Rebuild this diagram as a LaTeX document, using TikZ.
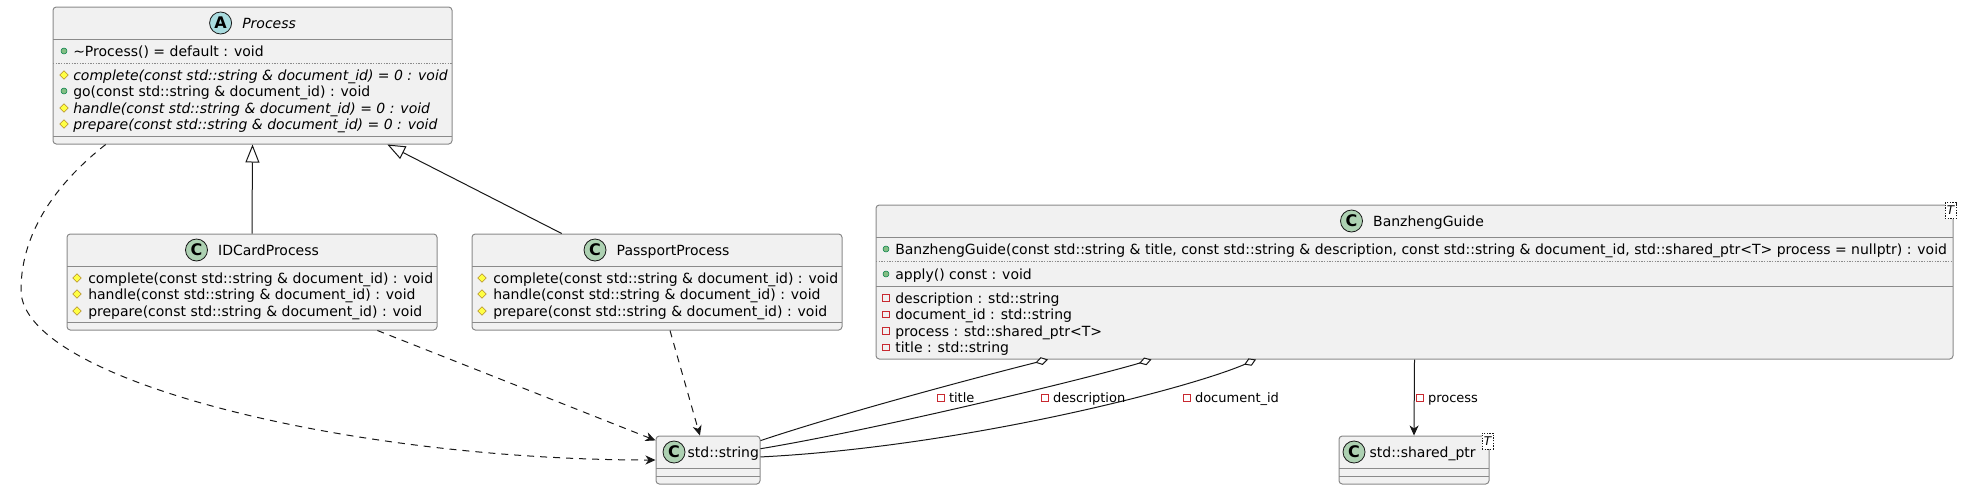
\documentclass[tikz,border=0pt]{standalone}
\usepackage{fontspec}
\setmainfont{DejaVu Sans}
\usetikzlibrary{arrows.meta,positioning,fit,calc,shapes.geometric}
\definecolor{boxfill}{HTML}{F1F1F1}
\definecolor{boxline}{HTML}{8A8A8A}
\definecolor{linkline}{HTML}{181818}
\definecolor{classgreen}{HTML}{ADD1B2}
\definecolor{abstractblue}{HTML}{A9DCDF}
\definecolor{pubfill}{HTML}{84BE84}
\definecolor{publine}{HTML}{038048}
\definecolor{protfill}{HTML}{FFFF44}
\definecolor{protline}{HTML}{B38D22}
\definecolor{privline}{HTML}{C82930}
\begin{document}
\begin{tikzpicture}[x=0.75pt,y=-0.75pt,
	classbox/.style = {draw=boxline, fill=boxfill, line width=0.75pt, rounded corners=2.5pt, inner sep=0pt},
	compline/.style = {draw=boxline, line width=0.75pt},
	dotline/.style = {draw=boxline, line width=0.5pt, dash pattern=on 1pt off 1pt},
	cicon/.style = {circle, draw=linkline, line width=0.6pt, fill=classgreen, minimum size=16.5pt, inner sep=0pt, font=\fontsize{12}{12}\selectfont\bfseries},
	aicon/.style = {cicon, fill=abstractblue},
	member/.style = {inner sep=0pt, anchor=west, font=\fontsize{10.5}{12}\selectfont, text height=9.6pt, text depth=2pt},
	pub/.style = {circle, draw=publine, fill=pubfill, line width=0.4pt, minimum size=4.5pt, inner sep=0pt},
	prot/.style = {diamond, draw=protline, fill=protfill, line width=0.4pt, minimum size=6.5pt, inner sep=0pt},
	priv/.style = {rectangle, draw=privline, line width=0.6pt, minimum size=5pt, inner sep=0pt},
	tparam/.style = {draw=linkline, dash pattern=on 1pt off 1pt, line width=0.4pt, fill=white, inner sep=0pt, minimum width=8.25pt, minimum height=12pt, font=\fontsize{9}{9}\selectfont\itshape},
	link/.style = {draw=linkline, line width=0.75pt},
	dep/.style = {link, dash pattern=on 5.25pt off 4.5pt, -{Stealth[length=7.5pt,width=6.75pt,inset=2.25pt]}},
	assoc/.style = {link, -{Stealth[length=7.5pt,width=6.75pt,inset=2.25pt]}},
	inherit/.style = {link, -{Triangle[length=13.5pt,width=10.5pt,fill=white]}},
	aggr/.style = {link, -{Diamond[length=9.75pt,width=6pt,fill=white]}},
	lbl/.style = {inner sep=0pt, anchor=west, font=\fontsize{9.75}{11}\selectfont, text height=9pt, text depth=2pt}]
	
	\useasboundingbox (0,0) rectangle (1962,490);
	
	% Process
	\node[classbox, fit={(53,7) (452,144)}] (proc) {};
	\draw[compline] (53,39) -- (452,39);
	\draw[dotline] (53,63) -- (452,63);
	\draw[compline] (53,136) -- (452,136);
	\node[aicon] (proca) at (220.6,23) {A};
	\node[member, right=7.5pt of proca] (procn) {\itshape Process};
	\node[pub] (pm1i) at (64,51) {};
	\node[member] (pm1) at (73,51) {\textasciitilde Process() = default : void};
	\node[prot] (pm2i) at (64,75) {};
	\node[member] (pm2) at (73,75) {\itshape complete(const std::string \& document\_id) = 0 : void};
	\node[pub] (pm3i) at (64,91) {};
	\node[member] (pm3) at (73,91) {go(const std::string \& document\_id) : void};
	\node[prot] (pm4i) at (64,108) {};
	\node[member] (pm4) at (73,108) {\itshape handle(const std::string \& document\_id) = 0 : void};
	\node[prot] (pm5i) at (64,124) {};
	\node[member] (pm5) at (73,124) {\itshape prepare(const std::string \& document\_id) = 0 : void};
	
	% IDCardProcess
	\node[classbox, fit={(67,234) (437,330)}] (idc) {};
	\draw[compline] (67,266) -- (437,266);
	\draw[compline] (67,322) -- (437,322);
	\node[cicon] (idcc) at (196.5,250) {C};
	\node[member, right=7.5pt of idcc] (idcn) {IDCardProcess};
	\node[prot] (im1i) at (77,278) {};
	\node[member] (im1) at (88,278) {complete(const std::string \& document\_id) : void};
	\node[prot] (im2i) at (77,294) {};
	\node[member] (im2) at (88,294) {handle(const std::string \& document\_id) : void};
	\node[prot] (im3i) at (77,311) {};
	\node[member] (im3) at (88,311) {prepare(const std::string \& document\_id) : void};
	
	% PassportProcess
	\node[classbox, fit={(472,234) (842,330)}] (pass) {};
	\draw[compline] (472,266) -- (842,266);
	\draw[compline] (472,322) -- (842,322);
	\node[cicon] (passc) at (595,250) {C};
	\node[member, right=7.5pt of passc] (passn) {PassportProcess};
	\node[prot] (sm1i) at (482,278) {};
	\node[member] (sm1) at (493,278) {complete(const std::string \& document\_id) : void};
	\node[prot] (sm2i) at (482,294) {};
	\node[member] (sm2) at (493,294) {handle(const std::string \& document\_id) : void};
	\node[prot] (sm3i) at (482,311) {};
	\node[member] (sm3) at (493,311) {prepare(const std::string \& document\_id) : void};
	
	% BanzhengGuide
	\node[classbox, fit={(876,205) (1953,359)}] (bg) {};
	\draw[compline] (876,237) -- (1953,237);
	\draw[dotline] (876,261) -- (1953,261);
	\draw[compline] (876,286) -- (1953,286);
	\node[cicon] (bgc) at (1351.5,221) {C};
	\node[member, right=7.5pt of bgc] (bgn) {BanzhengGuide};
	\node[tparam] (bgt) at (1950.5,210.5) {T};
	\node[pub] (bm1i) at (886,249) {};
	\node[member] (bm1) at (895,249) {BanzhengGuide(const std::string \& title, const std::string \& description, const std::string \& document\_id, std::shared\_ptr<T> process = nullptr) : void};
	\node[pub] (bm2i) at (886,274) {};
	\node[member] (bm2) at (895,274) {apply() const : void};
	\node[priv] (bf1i) at (886,298) {};
	\node[member] (bf1) at (895,298) {description : std::string};
	\node[priv] (bf2i) at (886,314.5) {};
	\node[member] (bf2) at (895,314.5) {document\_id : std::string};
	\node[priv] (bf3i) at (886,331) {};
	\node[member] (bf3) at (895,331) {process : std::shared\_ptr<T>};
	\node[priv] (bf4i) at (886,347.5) {};
	\node[member] (bf4) at (895,347.5) {title : std::string};
	
	% std::string
	\node[classbox, fit={(656,436) (760,484)}] (str) {};
	\draw[compline] (656,468) -- (760,468);
	\draw[compline] (656,476) -- (760,476);
	\node[cicon] (strc) at (674,452) {C};
	\node[member, right=1.5pt of strc] (strn) {std::string};
	
	% std::shared_ptr
	\node[classbox, fit={(1339,436) (1489,484)}] (sp) {};
	\draw[compline] (1339,468) -- (1489,468);
	\draw[compline] (1339,476) -- (1489,476);
	\node[cicon] (spc) at (1354,452) {C};
	\node[member, right=3pt of spc] (spn) {std::shared\_ptr};
	\node[tparam] (spt) at (1487.5,441) {T};
	
	% connectors
	\draw[inherit] (idc.north) -- (proc.south);
	\draw[inherit] ($(pass.north west)!0.243!(pass.north east)$) -- ($(proc.south west)!0.837!(proc.south east)$);
	\draw[dep] ($(proc.south west)!0.133!(proc.south east)$) .. controls +(-46,36) and +(0,-60) .. (21,290) .. controls +(0,90) and +(-307,0) .. (str.west);
	\draw[dep] ($(idc.south west)!0.838!(idc.south east)$) -- ($(str.north west)!0.1!(str.south west)$);
	\draw[dep] ($(pass.south west)!0.535!(pass.south east)$) -- ($(str.north west)!0.423!(str.north east)$);
	\draw[aggr] ($(str.north east)!0.104!(str.south east)$) .. controls +(90,-30) and +(-60,15) .. ($(bg.south west)!0.16!(bg.south east)$);
	\draw[aggr] ($(str.north east)!0.27!(str.south east)$) .. controls +(120,-20) and +(-60,18) .. ($(bg.south west)!0.256!(bg.south east)$);
	\draw[aggr] ($(str.north east)!0.4375!(str.south east)$) .. controls +(200,-10) and +(-70,30) .. ($(bg.south west)!0.353!(bg.south east)$);
	\draw[assoc] (bg.south) -- (sp.north);
	
	% link labels
	\node[priv] (l1i) at (941,398) {};
	\node[lbl, right=3pt of l1i] (l1) {title};
	\node[priv] (l2i) at (1045,398) {};
	\node[lbl, right=3pt of l2i] (l2) {description};
	\node[priv] (l3i) at (1187,398) {};
	\node[lbl, right=3pt of l3i] (l3) {document\_id};
	\node[priv] (l4i) at (1420,398) {};
	\node[lbl, right=3pt of l4i] (l4) {process};
	
\end{tikzpicture}
\end{document}
